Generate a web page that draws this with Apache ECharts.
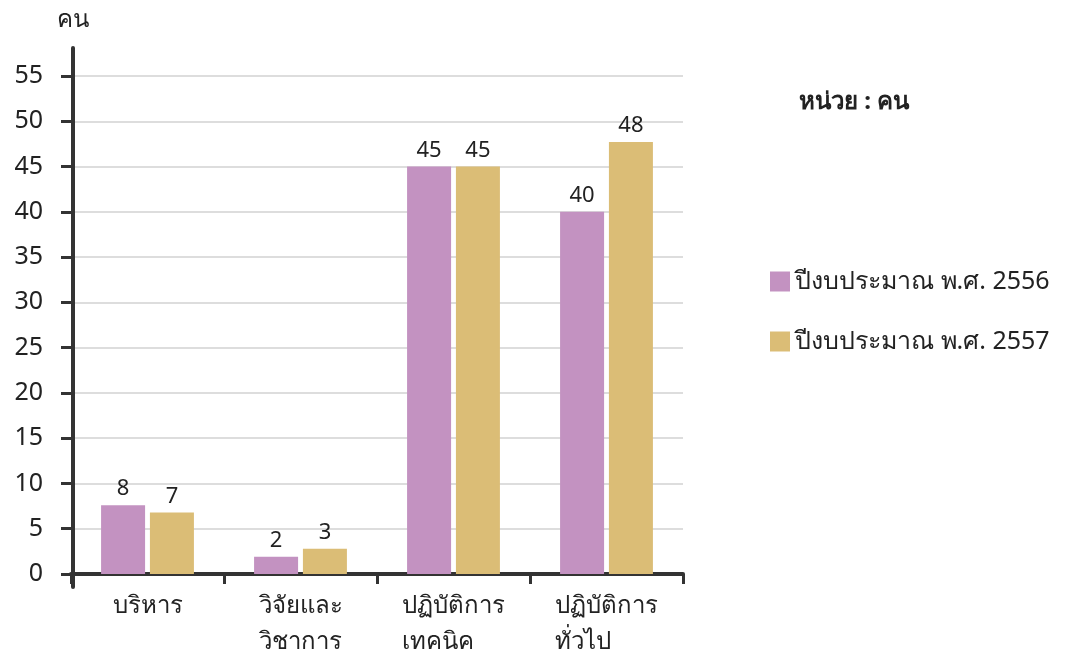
<!DOCTYPE html>
<html>
<head>
<meta charset="utf-8">
<script src="https://cdn.jsdelivr.net/npm/echarts@6/dist/echarts.min.js"></script>
<style>html,body{margin:0;padding:0;background:#fff}#c{width:1069px;height:657px}</style>
</head>
<body>
<div id="c"></div>
<script>
const categories = ['บริหาร', 'วิจัยและ\nวิชาการ', 'ปฏิบัติการ\nเทคนิค', 'ปฏิบัติการ\nทั่วไป'];
const seriesNames = ['ปีงบประมาณ พ.ศ. 2556', 'ปีงบประมาณ พ.ศ. 2557'];
const values2556 = [7.6, 1.9, 45, 40];
const values2557 = [6.8, 2.8, 45, 47.7];
const yTicks = [0, 5, 10, 15, 20, 25, 30, 35, 40, 45, 50, 55];
const unitText = 'หน่วย : คน';
const axisName = 'คน';

const FONT = "'Noto Sans', 'DejaVu Sans', sans-serif";
const TXT = '#222222';
const colors = ['#c392c1', '#dbbd76'];
const CAT_FS = 24;

// per-category rich style: lines left-aligned inside a block as wide as the longest line
const measureCtx = document.createElement('canvas').getContext('2d');
measureCtx.font = CAT_FS + 'px ' + FONT;
const catRich = {};
categories.forEach(function (c, i) {
  const w = Math.max.apply(null, c.split('\n').map(function (s) { return measureCtx.measureText(s).width; }));
  catRich['c' + i] = {width: Math.ceil(w), align: 'left', fontSize: CAT_FS, lineHeight: 36, color: TXT, fontFamily: FONT};
});

const chart = echarts.init(document.getElementById('c'), null, {renderer: 'canvas'});

chart.setOption({
  backgroundColor: '#ffffff',
  animation: false,
  textStyle: {fontFamily: FONT},
  title: {
    text: unitText, left: 794, top: 85,
    textStyle: {fontFamily: FONT, fontSize: 24, fontWeight: 'bold', color: TXT}
  },
  legend: {
    orient: 'vertical', left: 765, top: 264,
    icon: 'rect', itemWidth: 20, itemHeight: 20, itemGap: 35,
    textStyle: {fontFamily: FONT, fontSize: 25, color: TXT},
    data: seriesNames
  },
  grid: [
    {left: 71, right: 386, top: 76, bottom: 83, outerBoundsMode: 'none', containLabel: false},
    {left: 73, right: 386, top: 48, bottom: 70, outerBoundsMode: 'none', containLabel: false}
  ],
  xAxis: [
    {
      type: 'category', gridIndex: 0, data: categories,
      axisLine: {lineStyle: {color: '#333333', width: 4}},
      axisTick: {show: true, interval: 0, length: 10, lineStyle: {color: '#333333', width: 3}},
      axisLabel: {
        interval: 0, margin: 14, color: TXT, fontSize: CAT_FS, fontFamily: FONT, lineHeight: 36,
        formatter: function (v, idx) {
          return v.split('\n').map(function (s) { return '{c' + idx + '|' + s + '}'; }).join('\n');
        },
        rich: catRich
      },
      splitLine: {show: false}
    },
    {type: 'category', gridIndex: 1, data: categories, show: false}
  ],
  yAxis: [
    {
      type: 'value', gridIndex: 0, min: yTicks[0], max: yTicks[yTicks.length - 1], interval: 5,
      axisLine: {show: false},
      axisTick: {show: true, length: 10, lineStyle: {color: '#333333', width: 3}},
      axisLabel: {margin: 28, color: TXT, fontSize: 25, fontFamily: FONT},
      splitLine: {show: true, lineStyle: {color: '#dddddd', width: 2}}
    },
    {
      type: 'value', gridIndex: 1, min: 0, max: 1,
      name: axisName, nameLocation: 'end', nameGap: 16,
      nameTextStyle: {color: TXT, fontSize: 24, fontFamily: FONT, align: 'center'},
      axisLine: {show: true, lineStyle: {color: '#333333', width: 4}},
      axisTick: {show: false}, axisLabel: {show: false}, splitLine: {show: false}
    }
  ],
  series: [
    {
      name: seriesNames[0], type: 'bar', xAxisIndex: 0, yAxisIndex: 0,
      data: values2556, barWidth: 44, barGap: '11%',
      itemStyle: {color: colors[0]},
      label: {show: true, position: 'top', distance: 5, color: TXT, fontSize: 22, fontFamily: FONT,
        formatter: function (p) { return Math.round(p.value); }}
    },
    {
      name: seriesNames[1], type: 'bar', xAxisIndex: 0, yAxisIndex: 0,
      data: values2557, barWidth: 44, barGap: '11%',
      itemStyle: {color: colors[1]},
      label: {show: true, position: 'top', distance: 5, color: TXT, fontSize: 22, fontFamily: FONT,
        formatter: function (p) { return Math.round(p.value); }}
    }
  ]
});
</script>
</body>
</html>
